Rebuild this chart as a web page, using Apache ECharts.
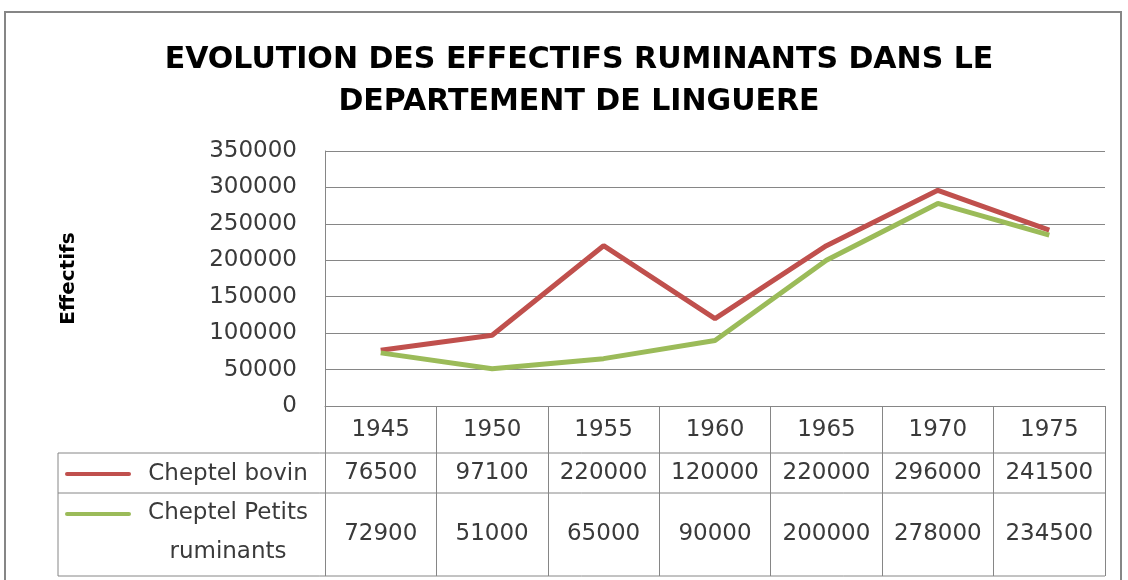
<!DOCTYPE html>
<html>
<head>
<meta charset="utf-8">
<script src="https://cdn.jsdelivr.net/npm/echarts@6/dist/echarts.min.js"></script>
<style>
  html, body { margin: 0; padding: 0; background: #fff; }
  #chart { width: 1128px; height: 580px; }
</style>
</head>
<body>
<div id="chart"></div>
<script>
// values
const years = ['1945', '1950', '1955', '1960', '1965', '1970', '1975'];
const cheptelBovin = [76500, 97100, 220000, 120000, 220000, 296000, 241500];
const cheptelPetits = [72900, 51000, 65000, 90000, 200000, 278000, 234500];
const seriesNames = ['Cheptel bovin', 'Cheptel Petits\nruminants'];
const seriesColors = ['#C0504D', '#9BBB59'];

const FONT = 'DejaVu Sans';
const FONT_SIZE = 23;
const TEXT = '#3a3a3a';
const LINE = '#868686';

// plot area and data table layout
const gridLeft = 325;
const gridRight = 1105;
const gridTop = 151;
const gridBottom = 406;
const tableLeft = 58;
const rowLines = [453, 493, 576];

const chart = echarts.init(document.getElementById('chart'));

const valueAxis = (data, offset, margin) => ({
  type: 'category',
  data: data.map(String),
  position: 'bottom',
  offset,
  axisLine: { show: false },
  axisTick: { show: false },
  axisLabel: { interval: 0, margin, fontFamily: FONT, fontSize: FONT_SIZE, color: TEXT },
});

const tableLines = rowLines.map((y) => ({
  type: 'line',
  shape: { x1: tableLeft, y1: y, x2: gridRight, y2: y },
  style: { stroke: LINE, lineWidth: 1 },
}));

chart.setOption({
  animation: false,
  title: {
    text: 'EVOLUTION DES EFFECTIFS RUMINANTS DANS LE\nDEPARTEMENT DE LINGUERE',
    left: 574,
    top: 34,
    textAlign: 'center',
    textStyle: { fontFamily: FONT, fontWeight: 'bold', fontSize: 30, lineHeight: 42, color: '#000' },
  },
  grid: {
    left: gridLeft,
    right: 1128 - gridRight,
    top: gridTop,
    bottom: 580 - gridBottom,
    containLabel: false,
  },
  xAxis: [
    {
      type: 'category',
      data: years,
      position: 'bottom',
      boundaryGap: true,
      axisLine: { show: true, lineStyle: { color: LINE, width: 1 } },
      axisTick: { show: true, interval: 0, length: rowLines[2] - gridBottom, lineStyle: { color: LINE, width: 1 } },
      axisLabel: { interval: 0, margin: 13, fontFamily: FONT, fontSize: FONT_SIZE, color: TEXT },
    },
    valueAxis(cheptelBovin, rowLines[0] - gridBottom, 9),
    valueAxis(cheptelPetits, rowLines[1] - gridBottom, 30),
  ],
  yAxis: {
    type: 'value',
    min: 0,
    max: 350000,
    interval: 50000,
    name: 'Effectifs',
    nameLocation: 'middle',
    nameRotate: 90,
    nameGap: 246,
    nameTextStyle: { fontFamily: FONT, fontWeight: 'bold', fontSize: 20, color: '#000' },
    axisLine: { show: true, lineStyle: { color: LINE, width: 1 } },
    axisTick: { show: false },
    splitLine: { lineStyle: { color: LINE, width: 1 } },
    axisLabel: {
      margin: 28,
      fontFamily: FONT,
      fontSize: FONT_SIZE,
      color: TEXT,
      formatter: (v) => String(v),
    },
  },
  series: [
    {
      name: seriesNames[0],
      type: 'line',
      data: cheptelBovin,
      xAxisIndex: 0,
      showSymbol: false,
      lineStyle: { color: seriesColors[0], width: 5 },
      itemStyle: { color: seriesColors[0] },
    },
    {
      name: seriesNames[1],
      type: 'line',
      data: cheptelPetits,
      xAxisIndex: 0,
      showSymbol: false,
      lineStyle: { color: seriesColors[1], width: 5 },
      itemStyle: { color: seriesColors[1] },
    },
  ],
  graphic: [
    {
      type: 'rect',
      shape: { x: 5, y: 12, width: 1116, height: 620 },
      style: { fill: 'none', stroke: LINE, lineWidth: 2 },
      silent: true,
    },
    ...tableLines,
    {
      type: 'line',
      shape: { x1: tableLeft, y1: rowLines[0], x2: tableLeft, y2: rowLines[2] },
      style: { stroke: LINE, lineWidth: 1 },
    },
    // legend keys in the table
    {
      type: 'line',
      shape: { x1: 67, y1: 474, x2: 129, y2: 474 },
      style: { stroke: seriesColors[0], lineWidth: 4, lineCap: 'round' },
    },
    {
      type: 'line',
      shape: { x1: 67, y1: 514, x2: 129, y2: 514 },
      style: { stroke: seriesColors[1], lineWidth: 4, lineCap: 'round' },
    },
    {
      type: 'text',
      x: 228,
      y: 474,
      style: { text: seriesNames[0], fontFamily: FONT, fontSize: FONT_SIZE, fill: TEXT, align: 'center', verticalAlign: 'middle' },
    },
    {
      type: 'text',
      x: 228,
      y: 533,
      style: {
        text: seriesNames[1],
        fontFamily: FONT,
        fontSize: FONT_SIZE,
        lineHeight: 39,
        fill: TEXT,
        align: 'center',
        verticalAlign: 'middle',
      },
    },
  ],
});
</script>
</body>
</html>
